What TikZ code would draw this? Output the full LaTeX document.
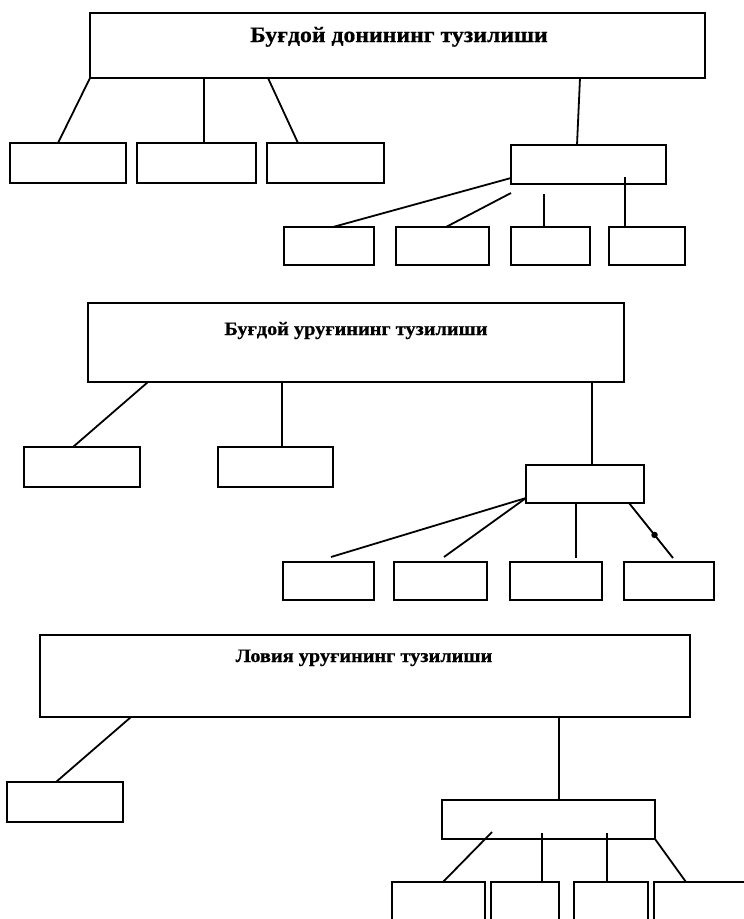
\documentclass[tikz,border=0pt]{standalone}
\usepackage{fontspec}
\setmainfont{Liberation Serif}[BoldFeatures={FakeBold=0.6}]
\begin{document}
\begin{tikzpicture}[x=1pt,y=-1pt,
  box/.style={draw,line width=2.3pt,inner sep=0pt,outer sep=0pt,fill=none},
  conn/.style={line width=1.8pt},
  ttl/.style={anchor=base,inner sep=0pt,font=\bfseries}]
\clip (0,0) rectangle (744,919);
\useasboundingbox (0,0) rectangle (744,919);

% ---------- Section 1 ----------
\node[box,minimum width=615pt,minimum height=65pt] (T) at (397.5,45.5) {};
\node[ttl,font=\bfseries\fontsize{22}{24}\selectfont] (Tt) at (399,42) {\scalebox{1.08}[1]{Буғдой донининг тузилиши}};
\node[box,minimum width=116pt,minimum height=40pt] (a1) at (68,163) {};
\node[box,minimum width=119pt,minimum height=40pt] (a2) at (196.5,163) {};
\node[box,minimum width=117pt,minimum height=40pt] (a3) at (325.5,163) {};
\node[box,minimum width=155pt,minimum height=39pt] (a4) at (588.5,164.5) {};
\node[box,minimum width=90pt,minimum height=38pt] (c1) at (329,246) {};
\node[box,minimum width=93pt,minimum height=38pt] (c2) at (442.5,246) {};
\node[box,minimum width=79pt,minimum height=38pt] (c3) at (550.5,246) {};
\node[box,minimum width=76pt,minimum height=38pt] (c4) at (647,246) {};
\draw[conn] (T.south west) -- ([xshift=48pt]a1.north west);
\draw[conn] ([xshift=114pt]T.south west) -- ([xshift=67pt]a2.north west);
\draw[conn] ([xshift=178pt]T.south west) -- ([xshift=31pt]a3.north west);
\draw[conn] ([xshift=490pt]T.south west) -- ([xshift=66pt]a4.north west);
\draw[conn] ([yshift=6pt]a4.south west) -- ([xshift=49pt]c1.north west);
\draw[conn] ([yshift=-9pt]a4.south west) -- ([xshift=50pt]c2.north west);
\draw[conn] ([xshift=33pt,yshift=-10pt]a4.south west) -- ([xshift=33pt]c3.north west);
\draw[conn] ([xshift=114pt,yshift=7pt]a4.south west) -- ([xshift=16pt]c4.north west);

% ---------- Section 2 ----------
\node[box,minimum width=536pt,minimum height=79pt] (M) at (356,342.5) {};
\node[ttl,font=\bfseries\fontsize{19}{21}\selectfont] (Mt) at (356,335) {\scalebox{1.07}[1]{Буғдой уруғининг тузилиши}};
\node[box,minimum width=116pt,minimum height=40pt] (L1) at (82,467) {};
\node[box,minimum width=115pt,minimum height=40pt] (L2) at (275.5,467) {};
\node[box,minimum width=118pt,minimum height=38pt] (Mm) at (585,484) {};
\node[box,minimum width=91pt,minimum height=38pt] (d1) at (328.5,581) {};
\node[box,minimum width=93pt,minimum height=38pt] (d2) at (440.5,581) {};
\node[box,minimum width=92pt,minimum height=38pt] (d3) at (556,581) {};
\node[box,minimum width=90pt,minimum height=38pt] (d4) at (669,581) {};
\draw[conn] ([xshift=60pt]M.south west) -- ([xshift=49pt]L1.north west);
\draw[conn] ([xshift=194pt]M.south west) -- ([xshift=64pt]L2.north west);
\draw[conn] ([xshift=504pt]M.south west) -- ([xshift=66pt]Mm.north west);
\draw[conn] ([yshift=5pt]Mm.south west) -- ([xshift=48pt,yshift=5pt]d1.north west);
\draw[conn] ([yshift=5pt]Mm.south west) -- ([xshift=50pt,yshift=5pt]d2.north west);
\draw[conn] ([xshift=50pt]Mm.south west) -- ([xshift=66pt,yshift=4pt]d3.north west);
\draw[conn] ([xshift=103pt]Mm.south west) -- node[pos=0.58,circle,fill=black,inner sep=0pt,minimum size=6.5pt] (dot) {} ([xshift=49pt,yshift=4pt]d4.north west);

% ---------- Section 3 ----------
\node[box,minimum width=650pt,minimum height=82pt] (B) at (365,676) {};
\node[ttl,font=\bfseries\fontsize{19}{21}\selectfont] (Bt) at (364,662) {\scalebox{1.07}[1]{Ловия уруғининг тузилиши}};
\node[box,minimum width=116pt,minimum height=40pt] (Bl) at (65,802) {};
\node[box,minimum width=213pt,minimum height=39pt] (Bm) at (548.5,819.5) {};
\node[box,minimum width=93pt,minimum height=60pt] (e1) at (438.5,912) {};
\node[box,minimum width=68pt,minimum height=60pt] (e2) at (525,912) {};
\node[box,minimum width=74pt,minimum height=60pt] (e3) at (611,912) {};
\node[box,minimum width=100pt,minimum height=60pt] (e4) at (704,912) {};
\draw[conn] ([xshift=91pt]B.south west) -- ([xshift=49pt]Bl.north west);
\draw[conn] ([xshift=519pt]B.south west) -- ([xshift=117pt]Bm.north west);
\draw[conn] ([xshift=50pt,yshift=7pt]Bm.south west) -- ([xshift=51pt]e1.north west);
\draw[conn] ([xshift=100pt,yshift=6pt]Bm.south west) -- ([xshift=51pt]e2.north west);
\draw[conn] ([xshift=165pt,yshift=6pt]Bm.south west) -- ([xshift=33pt]e3.north west);
\draw[conn] (Bm.south east) -- ([xshift=32pt]e4.north west);
\end{tikzpicture}
\end{document}
